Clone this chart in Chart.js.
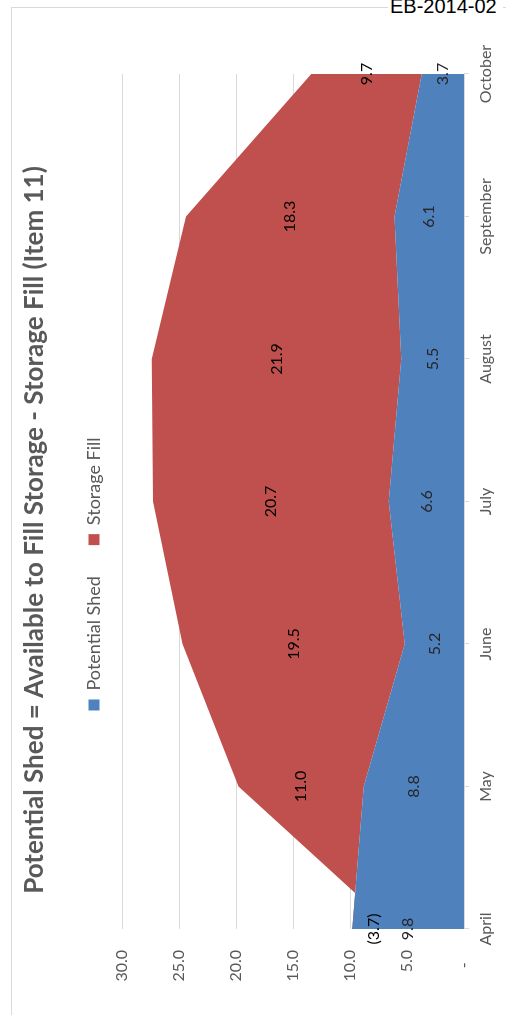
<!DOCTYPE html>
<html>
<head>
<meta charset="utf-8">
<script src="https://cdn.jsdelivr.net/npm/chart.js@4"></script>
<style>
  html, body { margin: 0; padding: 0; background: #fff; overflow: hidden; }
  body { width: 506px; height: 1015px; position: relative; }
  #frame { position: absolute; left: 11px; top: 7px; width: 600px; height: 1100px; border: 1px solid #D9D9D9; box-sizing: border-box; }
  #rot { position: absolute; left: 0; top: 0; width: 1015px; height: 506px; transform-origin: 0 0; transform: translate(0, 1015px) rotate(-90deg); }
  #ref { position: absolute; left: 388px; top: -4px; font: 20px "Liberation Sans", Arial, sans-serif; line-height: 20px; background: #fff; padding: 0 6px 2px 2px; color: #000; white-space: nowrap; }
</style>
</head>
<body>
<div id="frame"></div>
<div id="rot"><canvas id="shedChart" width="1015" height="506"></canvas></div>
<div id="ref">EB-2014-02</div>
<script>
// chart data
const months = ['April', 'May', 'June', 'July', 'August', 'September', 'October'];
const potentialShed = [9.8, 8.8, 5.2, 6.6, 5.5, 6.1, 3.7];
const storageFill = [-3.7, 11.0, 19.5, 20.7, 21.9, 18.3, 9.7];
const valueTicks = [0, 5, 10, 15, 20, 25, 30];

const BLUE = '#4F81BD';
const RED = '#C0504D';
const GREY_TEXT = '#595959';
const GRID = '#D9D9D9';

function fmt(v) {
  return v < 0 ? '(' + Math.abs(v).toFixed(1) + ')' : v.toFixed(1);
}

// put title / legend where Excel had them (not centred over the canvas)
const placeBoxes = {
  id: 'placeBoxes',
  afterLayout(chart) {
    const t = chart.titleBlock;
    const tw = t.right - t.left, th = t.bottom - t.top;
    t.left = 485 - tw / 2; t.right = t.left + tw;
    t.top = 35 - th / 2; t.bottom = t.top + th;

    const l = chart.legend;
    const lw = l.right - l.left, lh = l.bottom - l.top;
    l.left = 441 - lw / 2; l.right = l.left + lw;
    l.top = 94 - 31 - 9; l.bottom = l.top + lh;
  }
};

// labels in the middle of each band
const bandLabels = {
  id: 'bandLabels',
  afterDatasetsDraw(chart) {
    const ctx = chart.ctx;
    const xs = chart.scales.x, ys = chart.scales.y;
    ctx.save();
    ctx.font = '16px Lato';
    ctx.textAlign = 'center';
    ctx.textBaseline = 'middle';
    months.forEach((m, i) => {
      const x = xs.getPixelForValue(i);
      ctx.fillStyle = '#262626';
      ctx.fillText(fmt(potentialShed[i]), x, ys.getPixelForValue(potentialShed[i] / 2));
      ctx.fillStyle = '#000000';
      ctx.fillText(fmt(storageFill[i]), x, ys.getPixelForValue(potentialShed[i] + storageFill[i] / 2));
    });
    ctx.restore();
  }
};

Chart.defaults.font.family = 'Lato';
Chart.defaults.color = GREY_TEXT;

new Chart(document.getElementById('shedChart').getContext('2d'), {
  type: 'line',
  data: {
    labels: months,
    datasets: [{
      label: 'Potential Shed',
      data: potentialShed,
      backgroundColor: BLUE,
      borderColor: BLUE,
      borderWidth: 0,
      pointRadius: 0,
      fill: 'origin'
    }, {
      label: 'Storage Fill',
      data: storageFill,
      backgroundColor: RED,
      borderColor: RED,
      borderWidth: 0,
      pointRadius: 0,
      fill: '-1'
    }]
  },
  options: {
    responsive: false,
    animation: false,
    layout: { padding: { top: 32, left: 0, right: 74, bottom: 0 } },
    plugins: {
      title: {
        display: true,
        text: 'Potential Shed = Available to Fill Storage - Storage Fill (Item 11)',
        color: GREY_TEXT,
        font: { size: 26, weight: 'bold' },
        padding: { top: 0, bottom: 0 }
      },
      legend: {
        display: true,
        position: 'top',
        labels: {
          boxWidth: 11,
          boxHeight: 11,
          padding: 31,
          color: GREY_TEXT,
          font: { size: 18 }
        }
      },
      tooltip: { enabled: false }
    },
    scales: {
      x: {
        grid: { drawOnChartArea: false, drawTicks: true, tickLength: 5, color: GRID },
        border: { color: GRID },
        ticks: { padding: 7, font: { size: 16 }, color: GREY_TEXT, maxRotation: 0 },
        afterFit(scale) { scale.height = 42; }
      },
      y: {
        stacked: 'single',
        min: 0,
        max: 30,
        afterBuildTicks(scale) { scale.ticks = valueTicks.map(v => ({ value: v })); },
        grid: { color: GRID, drawTicks: false },
        border: { display: false },
        ticks: {
          padding: 21,
          font: { size: 16 },
          color: GREY_TEXT,
          callback: v => v === 0 ? '-   ' : v.toFixed(1)
        },
        afterFit(scale) { scale.width = 86; }
      }
    }
  },
  plugins: [placeBoxes, bandLabels]
});
</script>
</body>
</html>
